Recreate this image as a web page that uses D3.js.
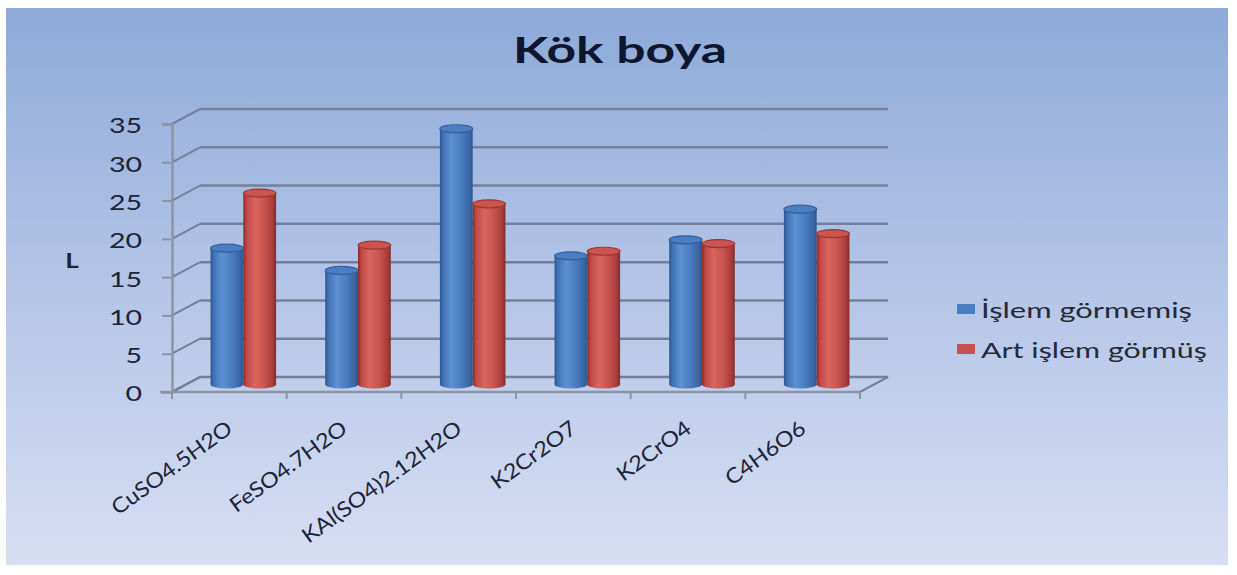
<!DOCTYPE html>
<html><head><meta charset="utf-8">
<script src="https://cdn.jsdelivr.net/npm/d3@7"></script>
<style>body{margin:0;background:#fff}</style>
</head><body><svg id="c" width="1237" height="575"></svg>
<script>
const categories = ["CuSO4.5H2O","FeSO4.7H2O","KAl(SO4)2.12H2O","K2Cr2O7","K2CrO4","C4H6O6"];
const seriesNames = ["İşlem görmemiş","Art işlem görmüş"];
const untreated = [17.8,14.9,33.4,16.8,18.9,22.9];
const treated = [25.0,18.2,23.6,17.4,18.4,19.7];
const yTicks = [0,5,10,15,20,25,30,35];
const titleText = "Kök boya";
const yLabelText = "L";

const svg = d3.select("#c");
const SX = 1.36; // horizontal stretch of the picture
const DX = 28, DY = -15; // depth offset

const defs = svg.append("defs");
const bg = defs.append("linearGradient").attr("id","bg").attr("x1",0).attr("y1",0).attr("x2",0).attr("y2",1);
bg.append("stop").attr("offset","0%").attr("stop-color","#8eaad9");
bg.append("stop").attr("offset","50%").attr("stop-color","#b4c5e7");
bg.append("stop").attr("offset","100%").attr("stop-color","#d7def3");

const palettes = [
  {id:"gb", stops:[["0%","#2b548e"],["10%","#4272b6"],["35%","#5d90d3"],["65%","#4a7cc0"],["90%","#3966a6"],["100%","#2c548e"]], top:"#4b7ec3", topStroke:"#335f9e", legend:"#4a7ec2"},
  {id:"gr", stops:[["0%","#86282a"],["10%","#bd4946"],["35%","#da645e"],["65%","#c9544f"],["90%","#a63d39"],["100%","#862927"]], top:"#cc5450", topStroke:"#9b3835", legend:"#c8504c"}
];
palettes.forEach(p => {
  const g = defs.append("linearGradient").attr("id",p.id).attr("x1",0).attr("y1",0).attr("x2",1).attr("y2",0);
  p.stops.forEach(s => g.append("stop").attr("offset",s[0]).attr("stop-color",s[1]));
});

svg.append("rect").attr("x",6).attr("y",8).attr("width",1222).attr("height",557).attr("fill","url(#bg)");

const y = d3.scaleLinear().domain([0,35]).range([392,124]);
const x = d3.scaleBand().domain(categories).range([172,860]);
const x1 = d3.scaleBand().domain(seriesNames).range([0,x.bandwidth()]).paddingOuter(0.75);

const gridColor = "#74809a";
const grid = svg.append("g");
// floor
grid.append("polygon")
  .attr("points", [[172,y(0)],[860,y(0)],[860+DX,y(0)+DY],[172+DX,y(0)+DY]].map(p=>p.join(",")).join(" "))
  .attr("fill","#c3cfea").attr("fill-opacity",0.25).attr("stroke",gridColor).attr("stroke-width",2);
yTicks.forEach(t => {
  grid.append("line").attr("x1",172+DX).attr("x2",860+DX).attr("y1",y(t)+DY).attr("y2",y(t)+DY)
    .attr("stroke",gridColor).attr("stroke-width",2.5);
  grid.append("line").attr("x1",172).attr("x2",172+DX).attr("y1",y(t)).attr("y2",y(t)+DY)
    .attr("stroke",gridColor).attr("stroke-width",2);
});

// front y axis
const yAxisG = svg.append("g").attr("transform","translate(172,0)")
  .call(d3.axisLeft(y).tickValues(yTicks).tickSize(10).tickFormat(""));
yAxisG.select(".domain").attr("stroke","#8a95a6").attr("stroke-width",2.5);
yAxisG.selectAll(".tick line").attr("stroke","#8a95a6").attr("stroke-width",2);

// y tick labels
svg.append("g").selectAll("text").data(yTicks).join("text")
  .attr("transform", d => `translate(142,${y(d)+1}) scale(${SX},1)`)
  .attr("text-anchor","end").attr("dominant-baseline","central")
  .attr("font-family","Lato").attr("font-size",21).attr("fill","#1c2438")
  .text(d => d);

// x axis
const xAxisG = svg.append("g").attr("transform",`translate(0,${y(0)})`);
xAxisG.append("line").attr("x1",160).attr("x2",860).attr("y1",0).attr("y2",0).attr("stroke","#8a95a6").attr("stroke-width",2.5);
xAxisG.selectAll("line.t").data(d3.range(categories.length+1)).join("line").attr("class","t")
  .attr("x1", i => 172 + i*x.step()).attr("x2", i => 172 + i*x.step())
  .attr("y1",0).attr("y2",7).attr("stroke","#8a95a6").attr("stroke-width",2);

// bars
const series = [untreated, treated];
const bw = x1.bandwidth();
const ry = 4;
const barsG = svg.append("g");
categories.forEach((c,ci) => {
  series.forEach((vals,si) => {
    const p = palettes[si];
    const bx = x(c) + x1(seriesNames[si]) + DX/2;
    const yb = y(0) + DY/2;
    const yt = y(vals[ci]) + DY/2;
    const g = barsG.append("g");
    g.append("ellipse").attr("cx",bx+bw/2).attr("cy",yb).attr("rx",bw/2).attr("ry",ry).attr("fill",`url(#${p.id})`);
    g.append("rect").attr("x",bx).attr("y",yt).attr("width",bw).attr("height",yb-yt).attr("fill",`url(#${p.id})`);
    g.append("ellipse").attr("cx",bx+bw/2).attr("cy",yt).attr("rx",bw/2).attr("ry",ry)
      .attr("fill",p.top).attr("stroke",p.topStroke).attr("stroke-width",1.2);
  });
});

// x labels
svg.append("g").selectAll("text").data(categories).join("text")
  .attr("transform", d => `translate(${x(d)+x.bandwidth()/2},425) rotate(-36) scale(1.12,1)`)
  .attr("text-anchor","end").attr("dominant-baseline","central")
  .attr("font-family","Lato").attr("font-size",21).attr("fill","#1c2438")
  .text(d => d);

// title
svg.append("text").attr("x",620).attr("y",63).attr("text-anchor","middle")
  .attr("font-family","Lato").attr("font-weight","bold").attr("font-size",36)
  .attr("textLength",214).attr("lengthAdjust","spacingAndGlyphs")
  .attr("fill","#0f1630").text(titleText);

// y label
svg.append("text").attr("transform","translate(72,260) scale(1.3,1)")
  .attr("text-anchor","middle").attr("dominant-baseline","central")
  .attr("font-family","Lato").attr("font-weight","bold").attr("font-size",20)
  .attr("fill","#1c2438").text(yLabelText);

// legend
const legend = svg.append("g");
const legendW = [211,226];
seriesNames.forEach((s,i) => {
  const ly = 318 + i*40;
  legend.append("rect").attr("x",957).attr("y",ly-14).attr("width",18).attr("height",10).attr("fill",palettes[i].legend);
  legend.append("text").attr("x",981).attr("y",ly)
    .attr("font-family","Lato").attr("font-size",22).attr("fill","#242a3a")
    .attr("textLength",legendW[i]).attr("lengthAdjust","spacingAndGlyphs")
    .text(s);
});
</script></body></html>
